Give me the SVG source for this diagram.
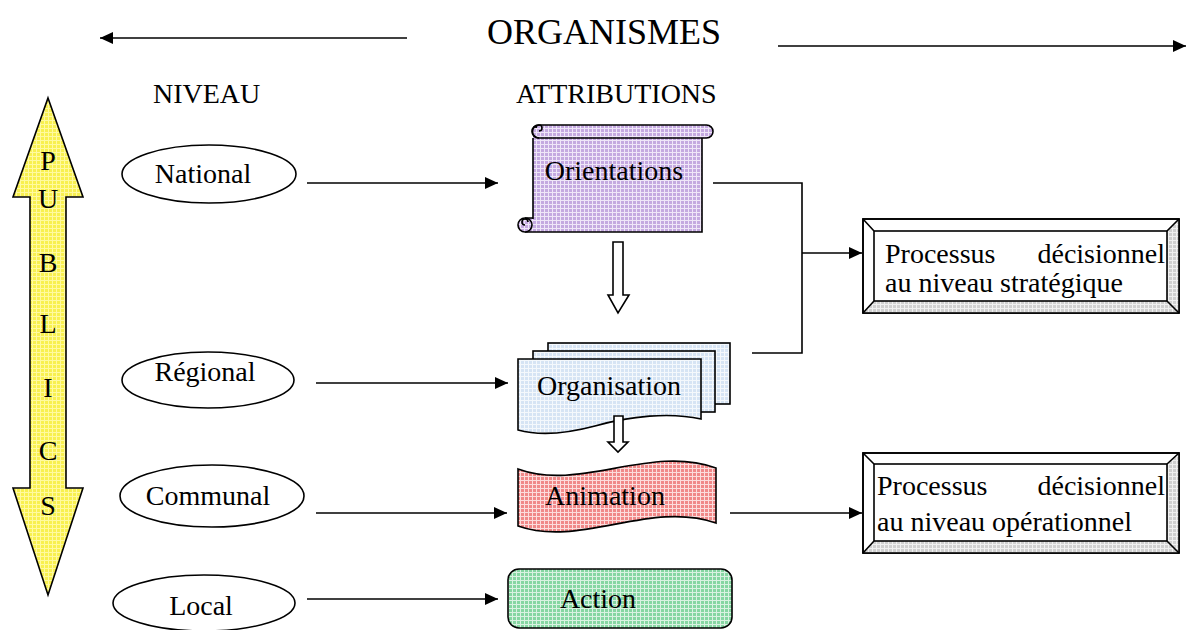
<svg xmlns="http://www.w3.org/2000/svg" width="1190" height="630" viewBox="0 0 1190 630">
<style>
  text { font-family: "Liberation Serif", "Times New Roman", serif; fill: #000; }
  .t { font-size: 28px; }
  .big { font-size: 36px; }
  .ln { stroke: #000; stroke-width: 1.6; fill: none; }
  .sh { stroke: #000; stroke-width: 1.6; }
  .ell { fill: #fff; stroke: #000; stroke-width: 1.6; }
</style>
<defs>
  <marker id="ah" markerUnits="userSpaceOnUse" markerWidth="14" markerHeight="12" refX="13" refY="6" orient="auto">
    <path d="M0,0 L13,6 L0,12 Z" fill="#000"/>
  </marker>
  <pattern id="pY" width="4" height="4" patternUnits="userSpaceOnUse">
    <rect width="4" height="4" fill="#f8f050"/>
    <path d="M0,0.5 H4 M0.5,0 V4" stroke="#fffaa0" stroke-width="1"/>
  </pattern>
  <pattern id="pP" width="4" height="4" patternUnits="userSpaceOnUse">
    <rect width="4" height="4" fill="#c4a9e0"/>
    <path d="M0,0.5 H4 M0.5,0 V4" stroke="#efe6f8" stroke-width="1"/>
  </pattern>
  <pattern id="pB" width="4" height="4" patternUnits="userSpaceOnUse">
    <rect width="4" height="4" fill="#d6e4f4"/>
    <path d="M0,0.5 H4 M0.5,0 V4" stroke="#f4f8fc" stroke-width="1"/>
  </pattern>
  <pattern id="pR" width="4" height="4" patternUnits="userSpaceOnUse">
    <rect width="4" height="4" fill="#f08888"/>
    <path d="M0,0.5 H4 M0.5,0 V4" stroke="#fcdcdc" stroke-width="1"/>
  </pattern>
  <pattern id="pG" width="4" height="4" patternUnits="userSpaceOnUse">
    <rect width="4" height="4" fill="#86d6a2"/>
    <path d="M0,0.5 H4 M0.5,0 V4" stroke="#daf2e2" stroke-width="1"/>
  </pattern>
  <pattern id="pGr" width="4" height="4" patternUnits="userSpaceOnUse">
    <rect width="4" height="4" fill="#d0d0d0"/>
    <path d="M0,0.5 H4 M0.5,0 V4" stroke="#f0f0f0" stroke-width="1"/>
  </pattern>
</defs>

<!-- header -->
<g id="header">
  <text class="big" x="604" y="44" text-anchor="middle">ORGANISMES</text>
  <text class="t" x="153" y="103">NIVEAU</text>
  <text class="t" x="516" y="103">ATTRIBUTIONS</text>
</g>

<!-- PUBLICS double arrow -->
<g id="publics">
  <polygon points="48,98 83,197 66,197 66,488 83,488 48,595 13,488 30,488 30,197 13,197" fill="url(#pY)" class="sh"/>
  <g class="t" text-anchor="middle">
    <text x="48" y="170">P</text>
    <text x="48" y="208">U</text>
    <text x="48" y="272">B</text>
    <text x="48" y="333">L</text>
    <text x="48" y="397">I</text>
    <text x="48" y="460">C</text>
    <text x="48" y="515">S</text>
  </g>
</g>

<!-- levels -->
<g id="national">
  <ellipse cx="209" cy="174" rx="87" ry="29" class="ell"/>
  <text class="t" x="203" y="183" text-anchor="middle">National</text>
</g>
<g id="regional">
  <ellipse cx="208" cy="380" rx="86" ry="28" class="ell"/>
  <text class="t" x="205" y="381" text-anchor="middle">Régional</text>
</g>
<g id="communal">
  <ellipse cx="212" cy="496" rx="92" ry="31" class="ell"/>
  <text class="t" x="208" y="505" text-anchor="middle">Communal</text>
</g>
<g id="local">
  <ellipse cx="204" cy="603" rx="91" ry="28" class="ell"/>
  <text class="t" x="201" y="615" text-anchor="middle">Local</text>
</g>

<!-- attributions -->
<g id="orientations">
  <path d="M533,131 H702 V232 H525 V218 H533 Z" fill="url(#pP)"/>
  <path d="M533,138 V219 M702,138 V232 H525" class="ln"/>
  <rect x="532" y="125" width="181" height="13" rx="6.5" fill="url(#pP)" class="sh"/>
  <path d="M539,125 A6.5,6.5 0 0 0 539,138 M539,131 A3,3 0 1 0 536,128" class="ln" stroke-width="1.3"/>
  <circle cx="525" cy="225" r="7" fill="url(#pP)" class="sh"/>
  <path d="M525,225 A3,3 0 1 1 528,222 M525,218 H533" class="ln" stroke-width="1.3"/>
  <text class="t" x="614" y="180" text-anchor="middle">Orientations</text>
</g>

<g id="arrow-down-1">
  <polygon points="613,242 623,242 623,295 629,295 618,313 608,295 613,295" fill="#fff" class="sh"/>
</g>

<g id="organisation">
  <rect x="548" y="343" width="182" height="61" fill="url(#pB)" class="sh"/>
  <rect x="533" y="351" width="182" height="61" fill="url(#pB)" class="sh"/>
  <path d="M518,359 H701 V419 C670,412 630,416 595,426 C565,434 540,436 518,430 Z" fill="url(#pB)" class="sh"/>
  <text class="t" x="609" y="395" text-anchor="middle">Organisation</text>
</g>

<g id="arrow-down-2">
  <polygon points="614,416 623,416 623,442 628,442 618,452 608,442 614,442" fill="#fff" class="sh"/>
</g>

<g id="animation">
  <path d="M518,469 C580,492 650,444 716,468 V523 C650,500 580,548 518,526 Z" fill="url(#pR)" class="sh"/>
  <text class="t" x="605" y="505" text-anchor="middle">Animation</text>
</g>

<g id="action">
  <rect x="508" y="569" width="224" height="59" rx="11" fill="url(#pG)" class="sh"/>
  <text class="t" x="598" y="608" text-anchor="middle">Action</text>
</g>

<!-- decision boxes -->
<g id="strategique">
  <rect x="863" y="219" width="316" height="94" fill="#fff" class="sh"/>
  <polygon points="1167,231 1179,219 1179,313 1167,301" fill="url(#pGr)"/>
  <polygon points="874,301 1167,301 1179,313 863,313" fill="url(#pGr)"/>
  <rect x="863" y="219" width="316" height="94" fill="none" class="sh"/>
  <rect x="874" y="231" width="293" height="70" fill="#fff" class="sh"/>
  <path d="M863,219 L874,231 M1179,219 L1167,231 M863,313 L874,301 M1179,313 L1167,301" class="ln"/>
  <text class="t" x="885" y="263">Processus</text>
  <text class="t" x="1165" y="263" text-anchor="end">décisionnel</text>
  <text class="t" x="885" y="292">au niveau stratégique</text>
</g>

<g id="operationnel">
  <rect x="863" y="453" width="316" height="100" fill="#fff" class="sh"/>
  <polygon points="1167,464 1179,453 1179,553 1167,541" fill="url(#pGr)"/>
  <polygon points="874,541 1167,541 1179,553 863,553" fill="url(#pGr)"/>
  <rect x="863" y="453" width="316" height="100" fill="none" class="sh"/>
  <rect x="874" y="464" width="293" height="77" fill="#fff" class="sh"/>
  <path d="M863,453 L874,464 M1179,453 L1167,464 M863,553 L874,541 M1179,553 L1167,541" class="ln"/>
  <text class="t" x="877" y="495">Processus</text>
  <text class="t" x="1165" y="495" text-anchor="end">décisionnel</text>
  <text class="t" x="877" y="531">au niveau opérationnel</text>
</g>

<!-- connectors -->
<g id="connectors">
  <line x1="407" y1="38" x2="100" y2="38" class="ln" marker-end="url(#ah)"/>
  <line x1="778" y1="46" x2="1186" y2="46" class="ln" marker-end="url(#ah)"/>
  <line x1="307" y1="183" x2="498" y2="183" class="ln" marker-end="url(#ah)"/>
  <line x1="316" y1="383" x2="508" y2="383" class="ln" marker-end="url(#ah)"/>
  <line x1="316" y1="513" x2="507" y2="513" class="ln" marker-end="url(#ah)"/>
  <line x1="307" y1="599" x2="498" y2="599" class="ln" marker-end="url(#ah)"/>
  <path d="M713,183 H802 V353 H752" class="ln"/>
  <line x1="802" y1="253" x2="862" y2="253" class="ln" marker-end="url(#ah)"/>
  <line x1="730" y1="513" x2="862" y2="513" class="ln" marker-end="url(#ah)"/>
</g>
</svg>
